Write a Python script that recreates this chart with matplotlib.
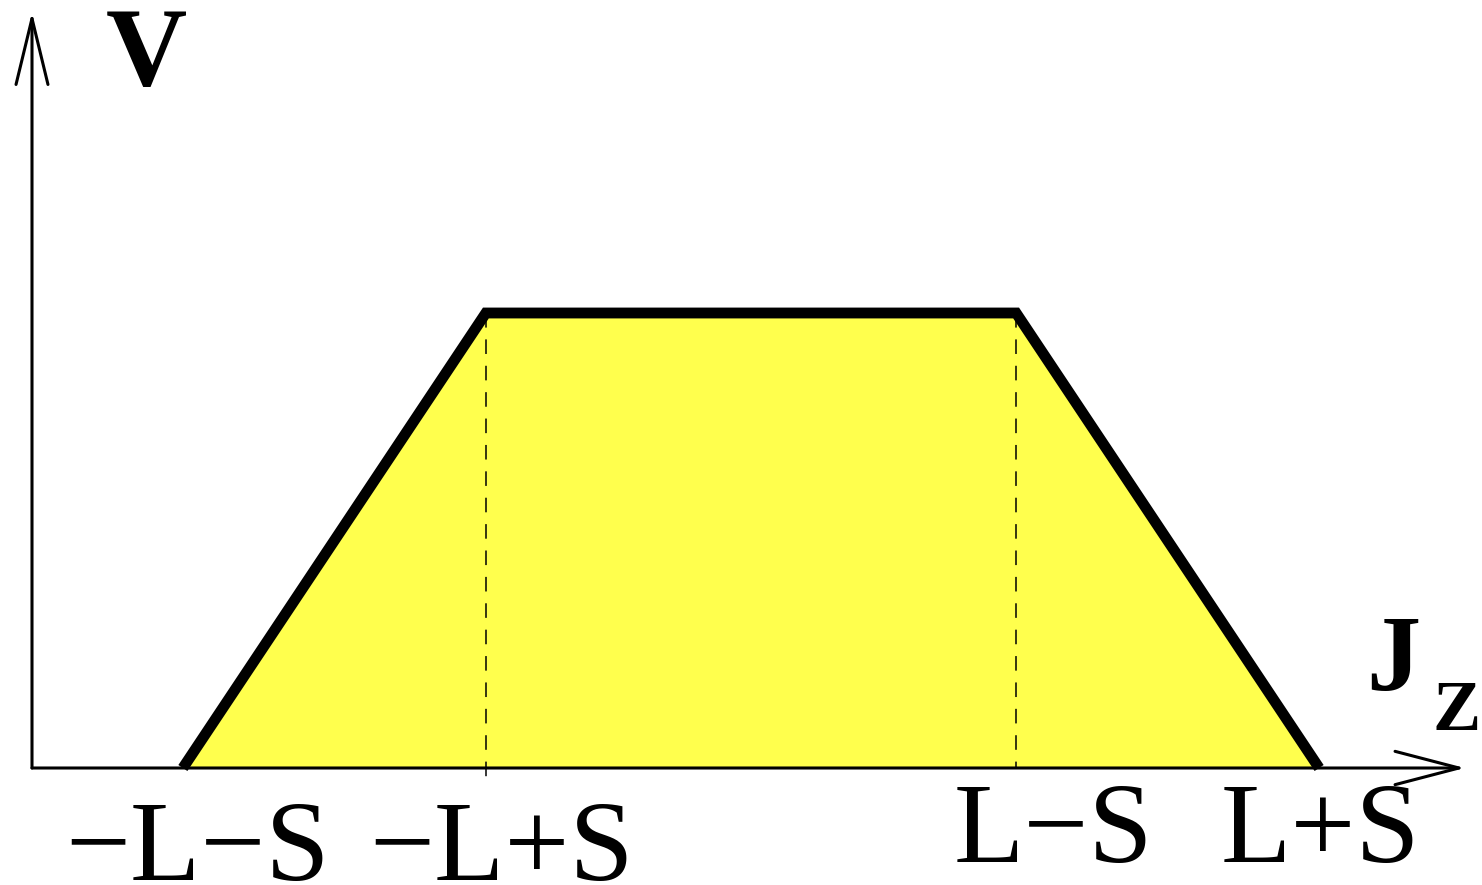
import matplotlib
matplotlib.use("Agg")
import matplotlib.pyplot as plt

# ---- data ----
L = 2.75
S = 1.0
Vmax = 1.0
jz_points = [-L - S, -L + S, L - S, L + S]
v_points = [0.0, Vmax, Vmax, 0.0]
tick_values = [-L - S, -L + S, L - S, L + S]
tick_labels = ["\u2212L\u2212S", "\u2212L+S", "L\u2212S", "L+S"]
y_label = "V"
x_label_main = "J"
x_label_sub = "Z"

# ---- layout ----
plt.rcParams["lines.scale_dashes"] = False
W, H, DPI = 1482, 885, 100
fig = plt.figure(figsize=(W / DPI, H / DPI), dpi=DPI)
ax = fig.add_axes([0, 0, 1, 1])
ax.axis("off")

px_per_unit_x = 151.5
x_center_px = 751
px_per_unit_y = 455
y_base_px = 768
ax.set_xlim((0 - x_center_px) / px_per_unit_x, (W - x_center_px) / px_per_unit_x)
ax.set_ylim((y_base_px - H) / px_per_unit_y, y_base_px / px_per_unit_y)

x0 = (32 - x_center_px) / px_per_unit_x
x_tip = (1465 - x_center_px) / px_per_unit_x
y_tip = (y_base_px - 12) / px_per_unit_y

serif = ["Liberation Serif", "DejaVu Serif"]

# fill
ax.fill(jz_points, v_points, facecolor="#ffff4d", edgecolor="black", lw=1.0, zorder=1)

# dashed verticals
ax.plot([tick_values[1]] * 2, [Vmax, -0.034], color="black", lw=1.1,
        dashes=(10.5, 8.5), zorder=2)
ax.plot([tick_values[2]] * 2, [Vmax, 0.0], color="black", lw=1.1,
        dashes=(10.5, 8.5), zorder=2)

# axes arrows
arrow_kw = dict(lw=2.2, color="black", shrinkA=0, shrinkB=0, mutation_scale=10)
ax.annotate("", xy=(x_tip, 0), xytext=(x0, 0),
            arrowprops=dict(arrowstyle="->,head_length=4.6,head_width=1.2", **arrow_kw),
            zorder=3)
ax.annotate("", xy=(x0, y_tip), xytext=(x0, 0),
            arrowprops=dict(arrowstyle="->,head_length=4.75,head_width=1.15", **arrow_kw),
            zorder=3)

# trapezoid outline
ax.plot(jz_points, v_points, color="black", lw=7.8, solid_joinstyle="miter",
        solid_capstyle="butt", zorder=4)

# tick labels
offsets = [(15, -112), (16, -112), (37, -94), (1, -94)]
for tv, lab, off in zip(tick_values, tick_labels, offsets):
    ax.annotate(lab, xy=(tv, 0), xytext=off, textcoords="offset pixels",
                ha="center", va="baseline", fontsize=83, family=serif)

# axis labels
fig.text(146 / W, 1 - 85 / H, y_label, ha="center", va="baseline",
         fontsize=81, fontweight="bold", family=serif)
fig.text(1393 / W, 1 - 690 / H, x_label_main, ha="center", va="baseline",
         fontsize=78, fontweight="bold", family=serif)
fig.text(1457 / W, 1 - 730 / H, x_label_sub, ha="center", va="baseline",
         fontsize=52, fontweight="bold", family=serif)

fig.savefig("out.png", dpi=DPI)
